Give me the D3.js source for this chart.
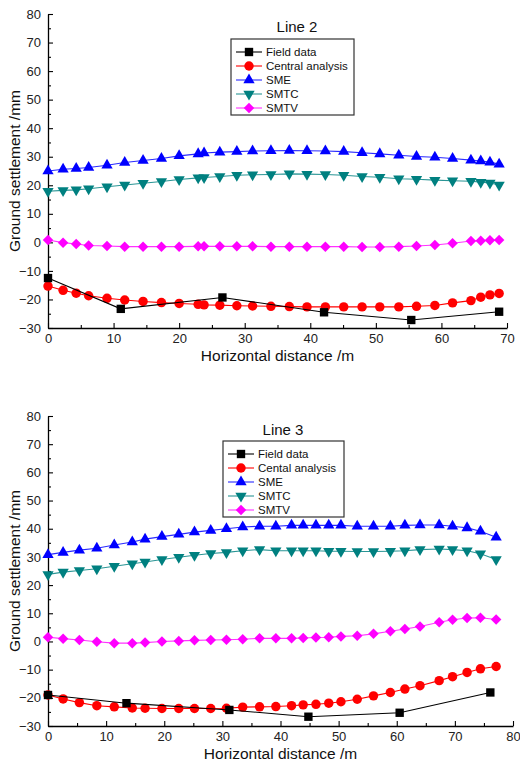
<!DOCTYPE html>
<html>
<head>
<meta charset="utf-8">
<script src="https://cdn.jsdelivr.net/npm/d3@7"></script>
<style>
  body { margin: 0; background: #fff; }
  svg { display: block; font-family: "Liberation Sans", Arial, sans-serif; }
</style>
</head>
<body>
<div class="chart"></div>
<script>
// Line 2 data
var line2X = [0, 2.3, 4.3, 6.2, 9.0, 11.7, 14.5, 17.3, 20.0, 22.9, 23.8, 26.2, 28.8, 31.2, 34.0, 36.8, 39.5, 42.3, 45.1, 47.9, 50.6, 53.5, 56.2, 59.0, 61.7, 64.5, 66.0, 67.4, 68.8];
var line2Central = [-15.3, -16.8, -17.8, -18.7, -19.6, -20.2, -20.7, -21.1, -21.4, -21.7, -21.9, -22.0, -22.2, -22.3, -22.4, -22.5, -22.6, -22.6, -22.6, -22.6, -22.6, -22.6, -22.4, -22.1, -21.2, -20.4, -19.2, -18.4, -17.9];
var line2SME = [25.0, 25.6, 25.9, 26.2, 27.0, 28.0, 28.7, 29.4, 30.3, 31.0, 31.3, 31.6, 31.8, 32.0, 32.1, 32.2, 32.1, 32.0, 31.8, 31.4, 31.0, 30.5, 30.1, 29.8, 29.4, 28.8, 28.5, 28.1, 27.4];
var line2SMTC = [17.9, 18.2, 18.4, 18.8, 19.5, 20.1, 20.7, 21.3, 22.0, 22.6, 22.7, 23.1, 23.5, 23.7, 23.8, 24.0, 23.9, 23.8, 23.5, 23.1, 22.8, 22.3, 22.1, 21.8, 21.6, 21.4, 21.1, 20.8, 20.1];
var line2SMTV = [0.8, -0.1, -0.6, -1.1, -1.3, -1.5, -1.5, -1.5, -1.5, -1.4, -1.4, -1.4, -1.4, -1.4, -1.5, -1.5, -1.5, -1.5, -1.5, -1.6, -1.6, -1.5, -1.3, -0.9, -0.3, 0.5, 0.6, 0.7, 0.8];
var line2FieldX = [0, 11.1, 26.6, 42.1, 55.4, 68.8];
var line2FieldY = [-12.5, -23.3, -19.3, -24.5, -27.2, -24.3];

// Line 3 data
var line3X = [0, 2.6, 5.4, 8.4, 11.4, 14.5, 16.7, 19.6, 22.5, 25.2, 28.0, 30.7, 33.5, 36.4, 39.2, 41.9, 43.9, 46.1, 48.3, 50.4, 53.2, 56.0, 58.9, 61.4, 64.0, 67.3, 69.6, 72.1, 74.4, 77.1];
var line3Central = [-19.0, -20.4, -21.7, -22.8, -23.2, -23.6, -23.7, -23.8, -23.8, -23.8, -23.8, -23.7, -23.3, -23.2, -23.1, -22.8, -22.5, -22.3, -21.9, -21.4, -20.5, -19.3, -18.1, -16.9, -15.7, -13.9, -12.5, -11.0, -9.7, -8.9];
var line3SME = [30.8, 31.6, 32.4, 33.1, 34.2, 35.3, 36.3, 37.2, 38.0, 38.8, 39.4, 40.0, 40.6, 40.9, 40.9, 41.2, 41.2, 41.2, 41.2, 41.2, 40.9, 40.9, 40.9, 41.2, 41.3, 41.3, 40.9, 40.3, 39.1, 37.0];
var line3SMTC = [23.8, 24.6, 25.2, 25.8, 26.7, 27.6, 28.2, 29.1, 29.9, 30.6, 31.2, 31.6, 32.2, 32.6, 32.2, 32.2, 32.2, 32.2, 32.0, 32.0, 31.9, 31.9, 32.0, 32.2, 32.6, 32.8, 32.6, 32.2, 31.1, 29.1];
var line3SMTV = [1.5, 1.0, 0.5, -0.1, -0.6, -0.6, -0.4, 0.0, 0.2, 0.4, 0.5, 0.6, 0.8, 1.1, 1.1, 1.1, 1.2, 1.4, 1.5, 1.8, 2.0, 2.7, 3.6, 4.4, 5.3, 6.8, 7.7, 8.3, 8.4, 7.8];
var line3FieldX = [0, 13.5, 31.2, 44.8, 60.5, 76.1];
var line3FieldY = [-19.0, -21.9, -24.3, -26.7, -25.3, -18.1];

var yTicks = [-30, -20, -10, 0, 10, 20, 30, 40, 50, 60, 70, 80];
var line2XTicks = [0, 10, 20, 30, 40, 50, 60, 70];
var line3XTicks = [0, 10, 20, 30, 40, 50, 60, 70, 80];

var svgWidth = 520;
var svgHeight = 764;

var svg = d3.select(".chart")
  .append("svg")
  .attr("width", svgWidth)
  .attr("height", svgHeight);

var diamond = {
  draw: function(ctx, size) {
    var r = Math.sqrt(size / 2);
    ctx.moveTo(0, -r); ctx.lineTo(r, 0); ctx.lineTo(0, r); ctx.lineTo(-r, 0); ctx.closePath();
  }
};

function drawChart(opt) {
  var g = svg.append("g");

  var x = d3.scaleLinear().domain([0, opt.xMax]).range([opt.left, opt.right]);
  var y = d3.scaleLinear().domain([-30, 80]).range([opt.bottom, opt.top]);

  // axes, ticks pointing inward
  var minorX = d3.range(5, opt.xMax, 10);
  var minorY = d3.range(-25, 80, 10);

  g.append("g")
    .attr("transform", `translate(0, ${opt.bottom})`)
    .call(d3.axisBottom(x).tickValues(minorX).tickFormat("").tickSizeInner(-3).tickSizeOuter(0))
    .call(a => a.select(".domain").remove());
  g.append("g")
    .attr("transform", `translate(${opt.left}, 0)`)
    .call(d3.axisLeft(y).tickValues(minorY).tickFormat("").tickSizeInner(-3).tickSizeOuter(0))
    .call(a => a.select(".domain").remove());

  var bottomAxis = g.append("g")
    .attr("transform", `translate(0, ${opt.bottom})`)
    .call(d3.axisBottom(x).tickValues(opt.xTicks).tickSizeInner(-5).tickSizeOuter(0).tickPadding(6));
  var leftAxis = g.append("g")
    .attr("transform", `translate(${opt.left}, 0)`)
    .call(d3.axisLeft(y).tickValues(yTicks).tickSizeInner(-5).tickSizeOuter(0).tickPadding(7));

  [bottomAxis, leftAxis].forEach(function(a) {
    a.selectAll("text").attr("font-size", 13).attr("fill", "#222")
      .attr("font-family", "Liberation Sans, Arial, sans-serif");
    a.select(".domain").attr("stroke-width", 1.3);
  });
  g.selectAll(".tick line").attr("stroke-width", 1.1);

  // series
  var series = [
    { name: "Field data", xs: opt.fieldX, ys: opt.fieldY, color: "#000000", line: "#000000", sym: d3.symbolSquare, size: 70, rot: 0 },
    { name: opt.centralName, xs: opt.xs, ys: opt.central, color: "#ff0000", line: "#ff0000", sym: d3.symbolCircle, size: 70, rot: 0 },
    { name: "SME", xs: opt.xs, ys: opt.sme, color: "#0000ff", line: "#2a2aff", sym: d3.symbolTriangle, size: 55, rot: 0 },
    { name: "SMTC", xs: opt.xs, ys: opt.smtc, color: "#008080", line: "#2a9595", sym: d3.symbolTriangle, size: 55, rot: 180 },
    { name: "SMTV", xs: opt.xs, ys: opt.smtv, color: "#ff00ff", line: "#ff33ff", sym: diamond, size: 55, rot: 0 }
  ];

  var lineGen = d3.line().x(d => x(d[0])).y(d => y(d[1]));

  series.slice().reverse().forEach(function(s) {
    var pts = s.xs.map((v, i) => [v, s.ys[i]]);
    var sg = g.append("g");
    sg.append("path")
      .attr("d", lineGen(pts))
      .attr("fill", "none")
      .attr("stroke", s.line)
      .attr("stroke-width", 1.1);
    sg.selectAll("path.pt")
      .data(pts)
      .enter()
      .append("path")
      .attr("class", "pt")
      .attr("d", d3.symbol().type(s.sym).size(s.size))
      .attr("transform", d => `translate(${x(d[0])}, ${y(d[1])}) rotate(${s.rot})`)
      .attr("fill", s.color);
  });

  // title
  g.append("text")
    .attr("x", opt.titleX)
    .attr("y", opt.titleY)
    .attr("text-anchor", "middle")
    .attr("font-size", 15)
    .attr("fill", "#111")
    .text(opt.title);

  // legend
  var lg = g.append("g").attr("transform", `translate(${opt.legX}, ${opt.legY})`);
  lg.append("rect")
    .attr("width", opt.legW)
    .attr("height", 76)
    .attr("fill", "#fff")
    .attr("stroke", "#333")
    .attr("stroke-width", 1.2);
  series.forEach(function(s, i) {
    var cy = 13 + i * 14;
    lg.append("line")
      .attr("x1", 5).attr("x2", 31)
      .attr("y1", cy).attr("y2", cy)
      .attr("stroke", s.line)
      .attr("stroke-width", 1.1);
    lg.append("path")
      .attr("d", d3.symbol().type(s.sym).size(s.size))
      .attr("transform", `translate(18, ${cy}) rotate(${s.rot})`)
      .attr("fill", s.color);
    lg.append("text")
      .attr("x", 35)
      .attr("y", cy + 4)
      .attr("font-size", 11.5)
      .attr("fill", "#111")
      .text(s.name);
  });

  // axis titles
  g.append("text")
    .attr("transform", `translate(${(opt.left + opt.right) / 2}, ${opt.bottom + 33})`)
    .attr("text-anchor", "middle")
    .attr("font-size", 15.5)
    .attr("fill", "#111")
    .text("Horizontal distance /m");

  g.append("text")
    .attr("transform", `translate(20, ${(opt.top + opt.bottom) / 2}) rotate(-90)`)
    .attr("text-anchor", "middle")
    .attr("font-size", 15.5)
    .attr("fill", "#111")
    .text("Ground settlement /mm");
}

drawChart({
  left: 48, right: 507, top: 14, bottom: 328, xMax: 70, xTicks: line2XTicks,
  xs: line2X, central: line2Central, sme: line2SME, smtc: line2SMTC, smtv: line2SMTV,
  fieldX: line2FieldX, fieldY: line2FieldY, centralName: "Central analysis",
  title: "Line 2", titleX: 297, titleY: 32,
  legX: 231, legY: 39, legW: 123
});

drawChart({
  left: 48, right: 513, top: 416, bottom: 726, xMax: 80, xTicks: line3XTicks,
  xs: line3X, central: line3Central, sme: line3SME, smtc: line3SMTC, smtv: line3SMTV,
  fieldX: line3FieldX, fieldY: line3FieldY, centralName: "Cental analysis",
  title: "Line 3", titleX: 283, titleY: 435,
  legX: 223, legY: 441, legW: 121
});
</script>
</body>
</html>
